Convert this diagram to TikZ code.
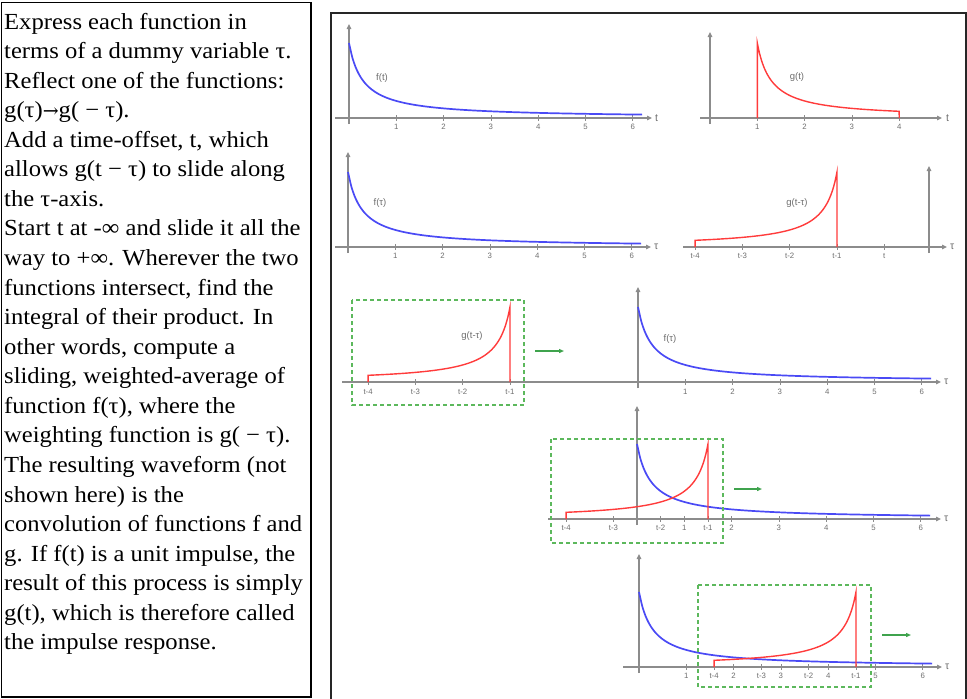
\documentclass[tikz,border=0pt]{standalone}
\usepackage{fontspec}
\newfontfamily\txtfont{Liberation Serif}[FakeStretch=1.07]
\newfontfamily\lblfont{Liberation Sans}
\newfontfamily\arrfont{DejaVu Serif}
\usetikzlibrary{arrows.meta}
\definecolor{axgray}{HTML}{8C8C8C}
\definecolor{fblue}{HTML}{4A4AF5}
\definecolor{gred}{HTML}{FF3B3B}
\definecolor{dgreen}{HTML}{5CB85C}
\definecolor{agreen}{HTML}{3FA34D}
\definecolor{lblgray}{HTML}{6E6E6E}
\newcommand{\fcurveat}[2]{\draw[fcurve] plot[domain=0:6.2,samples=90,smooth] ({#1+47.3*\x},{#2-75/(1+3.4*\x)});}
\newcommand{\gbackat}[2]{\draw[gcurve] ({#1-3*47.3},#2) -- plot[domain=3:0,samples=70,smooth] ({#1-47.3*\x},{#2-75/(1+3.4*\x)}) -- (#1,#2);}
\newcommand{\tline}[3]{\node[txt] (#1) at (4,{29+#2*29.57}) {#3};}
\newcommand{\rarr}{{\arrfont\fontsize{19}{20}\selectfont →}}
\begin{document}
\begin{tikzpicture}[x=1pt,y=-1pt,
 axisline/.style={draw=axgray,line width=1.2pt,-{Triangle[length=5pt,width=4.5pt]}},
 tickmark/.style={draw=axgray,line width=0.8pt},
 ticklbl/.style={font=\lblfont\fontsize{7.8}{8}\selectfont,text=lblgray,inner sep=0pt},
 axlbl/.style={font=\lblfont\fontsize{10.5}{10}\selectfont,text=lblgray,inner sep=0pt,anchor=west},
 fnlbl/.style={font=\lblfont\fontsize{9.5}{10}\selectfont,text=lblgray,inner sep=0pt},
 fcurve/.style={draw=fblue,line width=1.7pt},
 gcurve/.style={draw=gred,line width=1.4pt},
 dbox/.style={draw=dgreen,line width=1.1pt,dash pattern=on 4pt off 3pt},
 garrow/.style={draw=agreen,line width=1.2pt,-{Triangle[length=5pt,width=4pt]}},
 txt/.style={font=\txtfont\fontsize{23}{25}\selectfont,inner sep=0pt,anchor=base west}
]
\useasboundingbox (0,0) rectangle (967,699);
% frames
\draw[line width=1.8pt] (1.5,2.5) rectangle (311,697);
\draw[line width=2pt,draw=black!85] (331,13) rectangle (966,715);
% text
\tline{l1}{0}{Express each function in}
\tline{l2}{1}{terms of a dummy variable τ.}
\tline{l3}{2}{Reflect one of the functions:}
\tline{l4}{3}{g(τ)\rarr g( − τ).}
\tline{l5}{4}{Add a time-offset, t, which}
\tline{l6}{5}{allows g(t − τ) to slide along}
\tline{l7}{6}{the τ-axis.}
\tline{l8}{7}{Start t at -∞ and slide it all the}
\tline{l9}{8}{way to +∞. Wherever the two}
\tline{l10}{9}{functions intersect, find the}
\tline{l11}{10}{integral of their product. In}
\tline{l12}{11}{other words, compute a}
\tline{l13}{12}{sliding, weighted-average of}
\tline{l14}{13}{function f(τ), where the}
\tline{l15}{14}{weighting function is g( − τ).}
\tline{l16}{15}{The resulting waveform (not}
\tline{l17}{16}{shown here) is the}
\tline{l18}{17}{convolution of functions f and}
\tline{l19}{18}{g. If f(t) is a unit impulse, the}
\tline{l20}{19}{result of this process is simply}
\tline{l21}{20}{g(t), which is therefore called}
\tline{l22}{21}{the impulse response.}
% ---- plot 1: f(t)
\draw[axisline] (349,124) -- (349,24);
\draw[axisline] (335,118) -- (652,118);
\node[axlbl] (p1t) at (655,118) {t};
\foreach \i in {1,...,6} {\draw[tickmark] ({349+47.3*\i},115) -- ({349+47.3*\i},121);
  \node[ticklbl] (p1l\i) at ({349+47.3*\i},127) {\i};}
\fcurveat{349}{118}
\node[fnlbl] (p1f) at (382,78) {f(t)};
% ---- plot 2: g(t)
\draw[axisline] (710,124) -- (710,32);
\draw[axisline] (700,118) -- (942,118);
\node[axlbl] (p2t) at (946,118) {t};
\foreach \i in {1,...,4} {\draw[tickmark] ({710+47.3*\i},115) -- ({710+47.3*\i},121);
  \node[ticklbl] (p2l\i) at ({710+47.3*\i},127) {\i};}
\draw[gcurve] (757.3,118) -- plot[domain=0:3,samples=70,smooth] ({757.3+47.3*\x},{118-75/(1+3.4*\x)}) -- (899.2,118);
\node[fnlbl] (p2g) at (797,77) {g(t)};
% ---- plot 3: f(tau)
\draw[axisline] (348,253) -- (348,152);
\draw[axisline] (335,247) -- (651,247);
\node[axlbl] (p3t) at (654,247) {τ};
\foreach \i in {1,...,6} {\draw[tickmark] ({348+47.3*\i},244) -- ({348+47.3*\i},250);
  \node[ticklbl] (p3l\i) at ({348+47.3*\i},256) {\i};}
\fcurveat{348}{247}
\node[fnlbl] (p3f) at (380,203) {f(τ)};
% ---- plot 4: g(t-tau)
\draw[axisline] (929,253) -- (929,166);
\draw[axisline] (683,247) -- (947,247);
\node[axlbl] (p4t) at (950,247) {τ};
\foreach \k/\lab in {4/t-4,3/t-3,2/t-2,1/t-1,0/t} {\draw[tickmark] ({884.3-47.3*\k},244) -- ({884.3-47.3*\k},250);
  \node[ticklbl] (p4l\k) at ({884.3-47.3*\k},256) {\lab};}
\gbackat{837}{247}
\node[fnlbl] (p4g) at (797,203) {g(t-τ)};
% ---- row 3
\draw[axisline] (342,382) -- (941,382);
\node[axlbl] (p5t) at (944,382) {τ};
\foreach \k/\lab in {4/t-4,3/t-3,2/t-2,1/t-1} {\draw[tickmark] ({557.3-47.3*\k},379) -- ({557.3-47.3*\k},385);
  \node[ticklbl] (p5l\k) at ({557.3-47.3*\k},392) {\lab};}
\gbackat{510}{382}
\node[fnlbl] (p5g) at (472,336) {g(t-τ)};
\draw[dbox] (352,300) rectangle (524,405);
\draw[garrow] (535,351) -- (564,351);
\draw[axisline] (638,388) -- (638,287);
\foreach \i in {1,...,6} {\draw[tickmark] ({638+47.3*\i},379) -- ({638+47.3*\i},385);
  \node[ticklbl] (p6l\i) at ({638+47.3*\i},392) {\i};}
\fcurveat{638}{382}
\node[fnlbl] (p6f) at (670,339) {f(τ)};
% ---- row 4
\draw[axisline] (637,525) -- (637,406);
\draw[axisline] (548,519) -- (941,519);
\node[axlbl] (p7t) at (944,519) {τ};
\foreach \i in {1,...,6} {\draw[tickmark] ({637+47.3*\i},516) -- ({637+47.3*\i},522);
  \node[ticklbl] (p7l\i) at ({637+47.3*\i},528) {\i};}
\foreach \k/\lab in {4/t-4,3/t-3,2/t-2,1/t-1} {\draw[tickmark] ({755.3-47.3*\k},516) -- ({755.3-47.3*\k},522);
  \node[ticklbl] (p7r\k) at ({755.3-47.3*\k},528) {\lab};}
\fcurveat{637}{519}
\gbackat{708}{519}
\draw[dbox] (551,439) rectangle (723,543);
\draw[garrow] (734,489) -- (762,489);
% ---- row 5
\draw[axisline] (639,673) -- (639,554);
\draw[axisline] (623,667) -- (942,667);
\node[axlbl] (p8t) at (945,667) {τ};
\foreach \i in {1,...,6} {\draw[tickmark] ({639+47.3*\i},664) -- ({639+47.3*\i},670);
  \node[ticklbl] (p8l\i) at ({639+47.3*\i},676) {\i};}
\foreach \k/\lab in {4/t-4,3/t-3,2/t-2,1/t-1} {\draw[tickmark] ({903.3-47.3*\k},664) -- ({903.3-47.3*\k},670);
  \node[ticklbl] (p8r\k) at ({903.3-47.3*\k},676) {\lab};}
\fcurveat{639}{667}
\gbackat{856}{667}
\draw[dbox] (698,585) rectangle (871,687);
\draw[garrow] (882,635) -- (911,635);
\end{tikzpicture}
\end{document}
